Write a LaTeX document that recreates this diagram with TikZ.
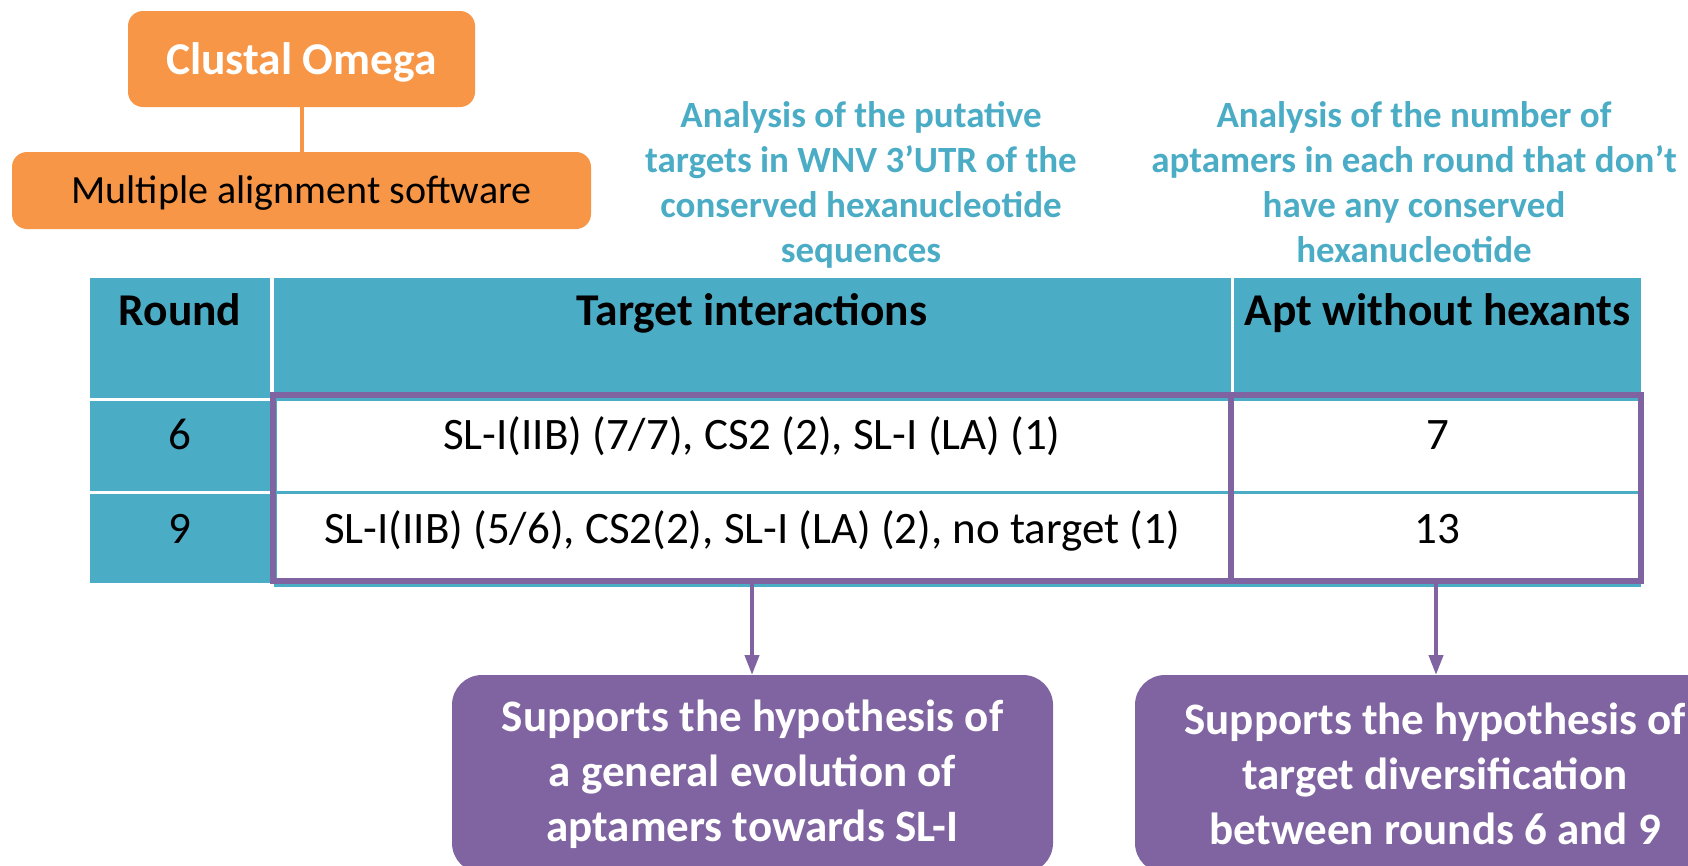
\documentclass[tikz,border=0pt]{standalone}
\usepackage{fontspec}
\setmainfont{Carlito}
\usetikzlibrary{arrows.meta}
\definecolor{corange}{HTML}{F79646}
\definecolor{cteal}{HTML}{4BACC6}
\definecolor{cpurple}{HTML}{8064A2}
\begin{document}
\begin{tikzpicture}[x=1pt,y=-1pt,
  obox/.style={fill=corange, draw=none, rounded corners=15pt, inner sep=0pt, outer sep=0pt},
  annot/.style={text=cteal, font=\bfseries\fontsize{37}{44.7}\selectfont, align=center, inner sep=0pt, anchor=base},
  headtxt/.style={font=\bfseries\fontsize{45.5}{50}\selectfont, inner sep=0pt, anchor=base},
  celltxt/.style={font=\fontsize{45}{50}\selectfont, inner sep=0pt, anchor=base},
  tealfill/.style={fill=cteal},
  prect/.style={draw=cpurple, line width=6pt, inner sep=0pt, outer sep=0pt},
  pbox/.style={fill=cpurple, draw=none, rounded corners=30pt, text=white, align=center,
    font=\bfseries\fontsize{45}{55}\selectfont, inner sep=0pt, outer sep=0pt},
  parrow/.style={draw=cpurple, line width=4pt, -{Triangle[length=20pt,width=14pt]}},
  oline/.style={draw=corange, line width=4pt}
]
\useasboundingbox (0,0) rectangle (1688,865);

% orange boxes
\node[obox, minimum width=347pt, minimum height=96pt, text=white,
  font=\bfseries\fontsize{45.5}{50}\selectfont, text height=30pt, text depth=0pt] (clustal) at (301.5,59) {Clustal Omega};
\node[obox, minimum width=579pt, minimum height=77pt,
  font=\fontsize{40}{48}\selectfont, text height=25pt, text depth=0pt] (mas) at (301.5,190.5) {Multiple alignment software};
\draw[oline] (clustal.south) -- (mas.north);

% annotations (anchored at the baseline of their last line)
\node[annot] (an1) at (861,262) {Analysis of the putative\\targets in WNV 3’UTR of the\\conserved hexanucleotide\\sequences};
\node[annot] (an2) at (1414,262) {Analysis of the number of\\aptamers in each round that don’t\\have any conserved\\hexanucleotide};

% table
\fill[tealfill] (90,278) rectangle (270,398);
\fill[tealfill] (90,401) rectangle (270,491);
\fill[tealfill] (90,494) rectangle (270,583);
\fill[tealfill] (274,278) rectangle (1641,587);
\fill[white] (1231,278) rectangle (1234,398);
\fill[white] (277,401) rectangle (1231,491);
\fill[white] (277,494) rectangle (1231,583);
\fill[white] (1234,401) rectangle (1638,491);
\fill[white] (1234,494) rectangle (1638,583);

\node[headtxt] (hround) at (180,325) {Round};
\node[headtxt] (htarget) at (752,325) {Target interactions};
\node[headtxt] (hapt) at (1437.5,325) {Apt without hexants};

\node[celltxt] (r6) at (180,449) {6};
\node[celltxt] (t6) at (752,449) {SL-I(IIB) (7/7), CS2 (2), SL-I (LA) (1)};
\node[celltxt] (a6) at (1437.5,449) {7};
\node[celltxt] (r9) at (180,543) {9};
\node[celltxt] (t9) at (752,543) {SL-I(IIB) (5/6), CS2(2), SL-I (LA) (2), no target (1)};
\node[celltxt] (a9) at (1437.5,543) {13};

% purple frames
\node[prect, minimum width=958pt, minimum height=186pt] (pr1) at (752,488) {};
\node[prect, minimum width=410pt, minimum height=186pt] (pr2) at (1436,488) {};

% purple boxes
\node[pbox, minimum width=601pt, minimum height=198pt] (sup1) at (752.5,774) {Supports the hypothesis of\\a general evolution of\\aptamers towards SL-I};
\node[pbox, minimum width=600pt, minimum height=198pt] (sup2) at (1435,774) {Supports the hypothesis of\\target diversification\\between rounds 6 and 9};

\draw[parrow] (pr1.south) -- (pr1.south |- sup1.north);
\draw[parrow] (pr2.south) -- (pr2.south |- sup2.north);
\end{tikzpicture}
\end{document}
